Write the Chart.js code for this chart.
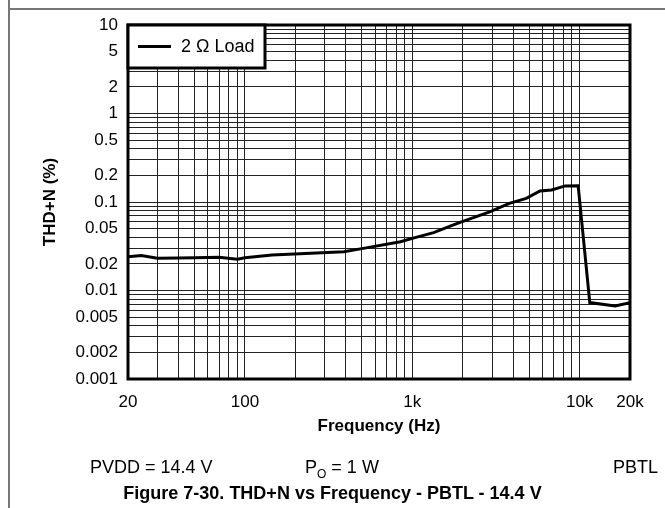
<!DOCTYPE html>
<html>
<head>
<meta charset="utf-8">
<script src="https://cdn.jsdelivr.net/npm/chart.js@4.4.1/dist/chart.umd.min.js"></script>
<style>
    html, body { margin: 0; padding: 0; background: #fff; }
    #wrap { position: relative; width: 665px; height: 508px; overflow: hidden; font-family: "Liberation Sans", Arial, sans-serif; color: #000; }
    #wrap canvas { position: absolute; left: 0; top: 0; }
    .frameV { position: absolute; left: 8px; top: 0; width: 2px; height: 508px; background: #777; }
    .frameH { position: absolute; left: 8px; top: 8px; width: 657px; height: 2px; background: #777; }
    .note { position: absolute; top: 457px; font-size: 18px; line-height: 20px; white-space: nowrap; }
    .note sub { font-size: 12px; line-height: 0; vertical-align: -5px; }
    .caption { position: absolute; left: 0; width: 665px; top: 483px; text-align: center; font-size: 18px; line-height: 20px; font-weight: bold; }
</style>
</head>
<body>
<div id="wrap">
    <canvas id="thdChart" width="665" height="508"></canvas>
    <div class="frameV"></div>
    <div class="frameH"></div>
    <div class="note" style="left:90px;">PVDD = 14.4 V</div>
    <div class="note" style="left:305px;">P<sub>O</sub> = 1 W</div>
    <div class="note" style="left:613px;">PBTL</div>
    <div class="caption">Figure 7-30. THD+N vs Frequency - PBTL - 14.4 V</div>
</div>
<script>
// curve
const freqHz = [20, 24, 30, 40, 50, 70, 90, 100, 145, 230, 390, 530, 850, 1000, 1340, 1700, 1930, 2900, 3800, 4800, 5800, 6800, 8200, 9800, 11500, 16300, 20000];
const thdPct = [0.0241, 0.0249, 0.0232, 0.0233, 0.0235, 0.0237, 0.0226, 0.0234, 0.0252, 0.0262, 0.0274, 0.0303, 0.0356, 0.0388, 0.0451, 0.0536, 0.0589, 0.0775, 0.0966, 0.110, 0.133, 0.137, 0.152, 0.153, 0.0073, 0.0067, 0.0073];

// labelled ticks
const xLabelValues = [20, 100, 1000, 10000, 20000];
const xLabelText = ['20', '100', '1k', '10k', '20k'];
const yLabelValues = [10, 5, 2, 1, 0.5, 0.2, 0.1, 0.05, 0.02, 0.01, 0.005, 0.002, 0.001];
const yLabelText = ['10', '5', '2', '1', '0.5', '0.2', '0.1', '0.05', '0.02', '0.01', '0.005', '0.002', '0.001'];

// log grid: 1..9 in every decade between min and max
function logGrid(min, max) {
    const out = [];
    for (let d = Math.floor(Math.log10(min)); d <= Math.ceil(Math.log10(max)); d++) {
        for (let m = 1; m <= 9; m++) {
            const v = +(m * Math.pow(10, d)).toPrecision(6);
            if (v >= min * 0.9999 && v <= max * 1.0001) out.push(v);
        }
    }
    return out;
}

function findLabel(values, texts, v) {
    for (let i = 0; i < values.length; i++) {
        if (Math.abs(values[i] - v) / values[i] < 1e-6) return texts[i];
    }
    return '';
}

const plotBoxAndLegend = {
    id: 'plotBoxAndLegend',
    afterDraw(chart) {
        const { ctx, chartArea: a } = chart;
        ctx.save();
        ctx.strokeStyle = '#000';
        ctx.lineWidth = 3;
        ctx.strokeRect(a.left, a.top, a.right - a.left, a.bottom - a.top);

        // legend box in the top-left corner
        const w = 137, h = 43;
        ctx.fillStyle = '#fff';
        ctx.fillRect(a.left, a.top, w, h);
        ctx.strokeRect(a.left, a.top, w, h);
        ctx.beginPath();
        ctx.moveTo(a.left + 10, a.top + 21.5);
        ctx.lineTo(a.left + 43, a.top + 21.5);
        ctx.stroke();
        ctx.fillStyle = '#000';
        ctx.font = '18px "Liberation Sans", Arial, sans-serif';
        ctx.textBaseline = 'middle';
        ctx.fillText(chart.data.datasets[0].label, a.left + 53, a.top + 22);
        ctx.restore();
    }
};

const tickFont = { family: '"Liberation Sans", Arial, sans-serif', size: 17 };
const titleFont = { family: '"Liberation Sans", Arial, sans-serif', size: 17, weight: 'bold' };

new Chart(document.getElementById('thdChart'), {
    type: 'line',
    data: {
        datasets: [{
            label: '2 \u03A9 Load',
            data: freqHz.map((f, i) => ({ x: f, y: thdPct[i] })),
            borderColor: '#000',
            borderWidth: 3,
            pointRadius: 0,
            tension: 0,
            fill: false
        }]
    },
    options: {
        responsive: false,
        animation: false,
        devicePixelRatio: 1,
        layout: { padding: { left: 0, top: 25, right: 35, bottom: 0 } },
        plugins: {
            legend: { display: false },
            tooltip: { enabled: false }
        },
        scales: {
            x: {
                type: 'logarithmic',
                min: 20,
                max: 20000,
                afterBuildTicks: scale => { scale.ticks = logGrid(20, 20000).map(v => ({ value: v })); },
                afterFit: scale => { scale.height = 129; },
                grid: { color: '#222', lineWidth: 1, drawTicks: false },
                border: { display: false },
                ticks: {
                    font: tickFont,
                    color: '#000',
                    padding: 13,
                    autoSkip: false,
                    maxRotation: 0,
                    callback: v => findLabel(xLabelValues, xLabelText, v)
                },
                title: {
                    display: true,
                    text: 'Frequency (Hz)',
                    font: titleFont,
                    color: '#000',
                    padding: { top: 0, bottom: 71 }
                }
            },
            y: {
                type: 'logarithmic',
                min: 0.001,
                max: 10,
                afterBuildTicks: scale => { scale.ticks = logGrid(0.001, 10).map(v => ({ value: v })); },
                afterFit: scale => { scale.width = 128; },
                grid: { color: '#222', lineWidth: 1, drawTicks: false },
                border: { display: false },
                ticks: {
                    font: tickFont,
                    color: '#000',
                    padding: 10,
                    autoSkip: false,
                    callback: v => findLabel(yLabelValues, yLabelText, v)
                },
                title: {
                    display: true,
                    text: 'THD+N (%)',
                    font: titleFont,
                    color: '#000',
                    padding: { top: 40, bottom: 0 }
                }
            }
        }
    },
    plugins: [plotBoxAndLegend]
});
</script>
</body>
</html>
